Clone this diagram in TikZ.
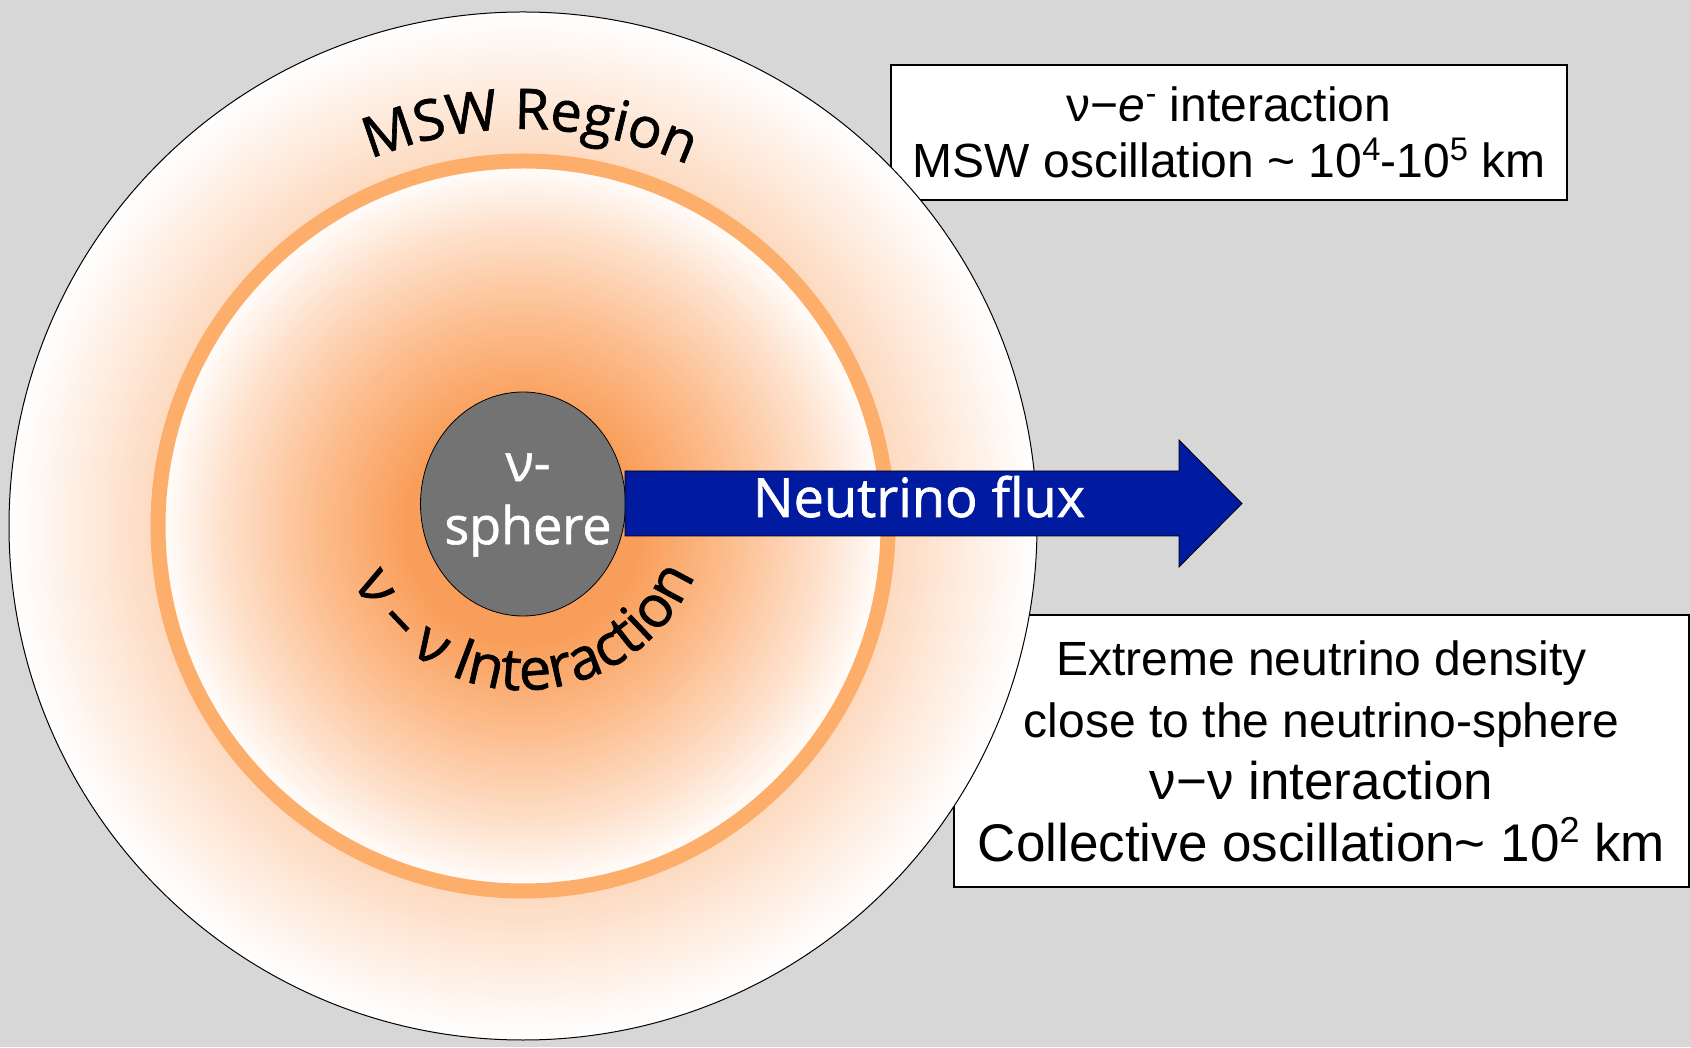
\documentclass[tikz,border=0pt]{standalone}
\usepackage{fontspec}
\usepackage{graphicx}
\setmainfont{Liberation Sans}
\newfontfamily\handfont[FakeBold=1.2]{Open Sans}
\usetikzlibrary{shapes.geometric,decorations.text}

\definecolor{bggray}{RGB}{215,215,215}
\definecolor{coreorange}{RGB}{249,158,90}
\definecolor{midorange}{RGB}{252,188,140}
\definecolor{paleorange}{RGB}{254,225,204}
\definecolor{peach}{RGB}{253,218,192}
\definecolor{ringorange}{RGB}{254,174,107}
\definecolor{spheregray}{RGB}{115,115,115}
\definecolor{fluxblue}{RGB}{0,26,160}

\pgfdeclareradialshading{coreglow}{\pgfpoint{0bp}{0bp}}{color(0bp)=(coreorange); color(8bp)=(coreorange); color(14bp)=(midorange); color(20.5bp)=(paleorange); color(25bp)=(white); color(50bp)=(white)}
\pgfdeclareradialshading{outerglow}{\pgfpoint{0bp}{0bp}}{color(0bp)=(peach); color(18bp)=(peach); color(25bp)=(white); color(50bp)=(white)}

\newcommand{\supnum}[1]{\raisebox{0.36em}{\scalebox{0.68}{#1}}}

\begin{document}
\begin{tikzpicture}[x=1pt, y=1pt,
  infobox/.style={draw=black, line width=1.4pt, fill=white, inner sep=0pt, align=center},
  handtext/.style={font=\handfont\fontsize{52}{63}\selectfont},
  arctext/.style 2 args={decorate, decoration={text along path, text align=center, text={|\handfont\fontsize{#1}{60}\selectfont|#2}}}]
\fill[bggray] (0,0) rectangle (1691,1047);
\useasboundingbox (0,0) rectangle (1691,1047);
% info boxes (under the star)
\node[infobox, minimum width=676, minimum height=135, font=\fontsize{48}{56}\selectfont] (mswbox) at (1229,914.5)
  {ν−\textit{e}\supnum{-} interaction\\MSW oscillation \textasciitilde{} 10\supnum{4}-10\supnum{5} km};
\node[infobox, minimum width=735, minimum height=272, font=\fontsize{48}{62}\selectfont] (densbox) at (1321.5,296)
  {Extreme neutrino density\\close to the neutrino-sphere\\{\fontsize{53}{62}\selectfont ν−ν interaction}\\{\fontsize{53}{62}\selectfont Collective oscillation\textasciitilde{} 10\supnum{2} km}};
% star
\coordinate (core) at (523,521);
\shade[shading=outerglow] (core) circle[radius=514];
\draw[line width=1pt] (core) circle[radius=514];
\shade[shading=coreglow] (core) circle[radius=365];
\draw[ringorange, line width=15] (core) circle[radius=365];
\node[ellipse, draw=black, line width=0.8pt, fill=spheregray, minimum width=205, minimum height=224, inner sep=0pt] (nusphere) at (523,543) {};
\node[handtext, text=white, align=center] (spherelabel) at (528,542) {ν-\\sphere};
% flux arrow
\draw[fill=fluxblue, line width=0.8pt] (625,576) -- (1179,576) -- (1179,607) -- (1242,543.5)
  -- (1179,480) -- (1179,511) -- (625,511) -- cycle;
\node[handtext, text=white, anchor=base, font=\handfont\fontsize{54}{62}\selectfont] (fluxlabel) at (919,530) {Neutrino flux};
% curved labels
\path[arctext={56}{MSW Region}] ([shift={(134:397)}]core) arc[start angle=134, end angle=44, radius=397];
\path[arctext={58}{ν – ν Interaction}] ([shift={(196:186)}]nusphere.center) arc[start angle=196, end angle=346, radius=186];
\end{tikzpicture}
\end{document}
